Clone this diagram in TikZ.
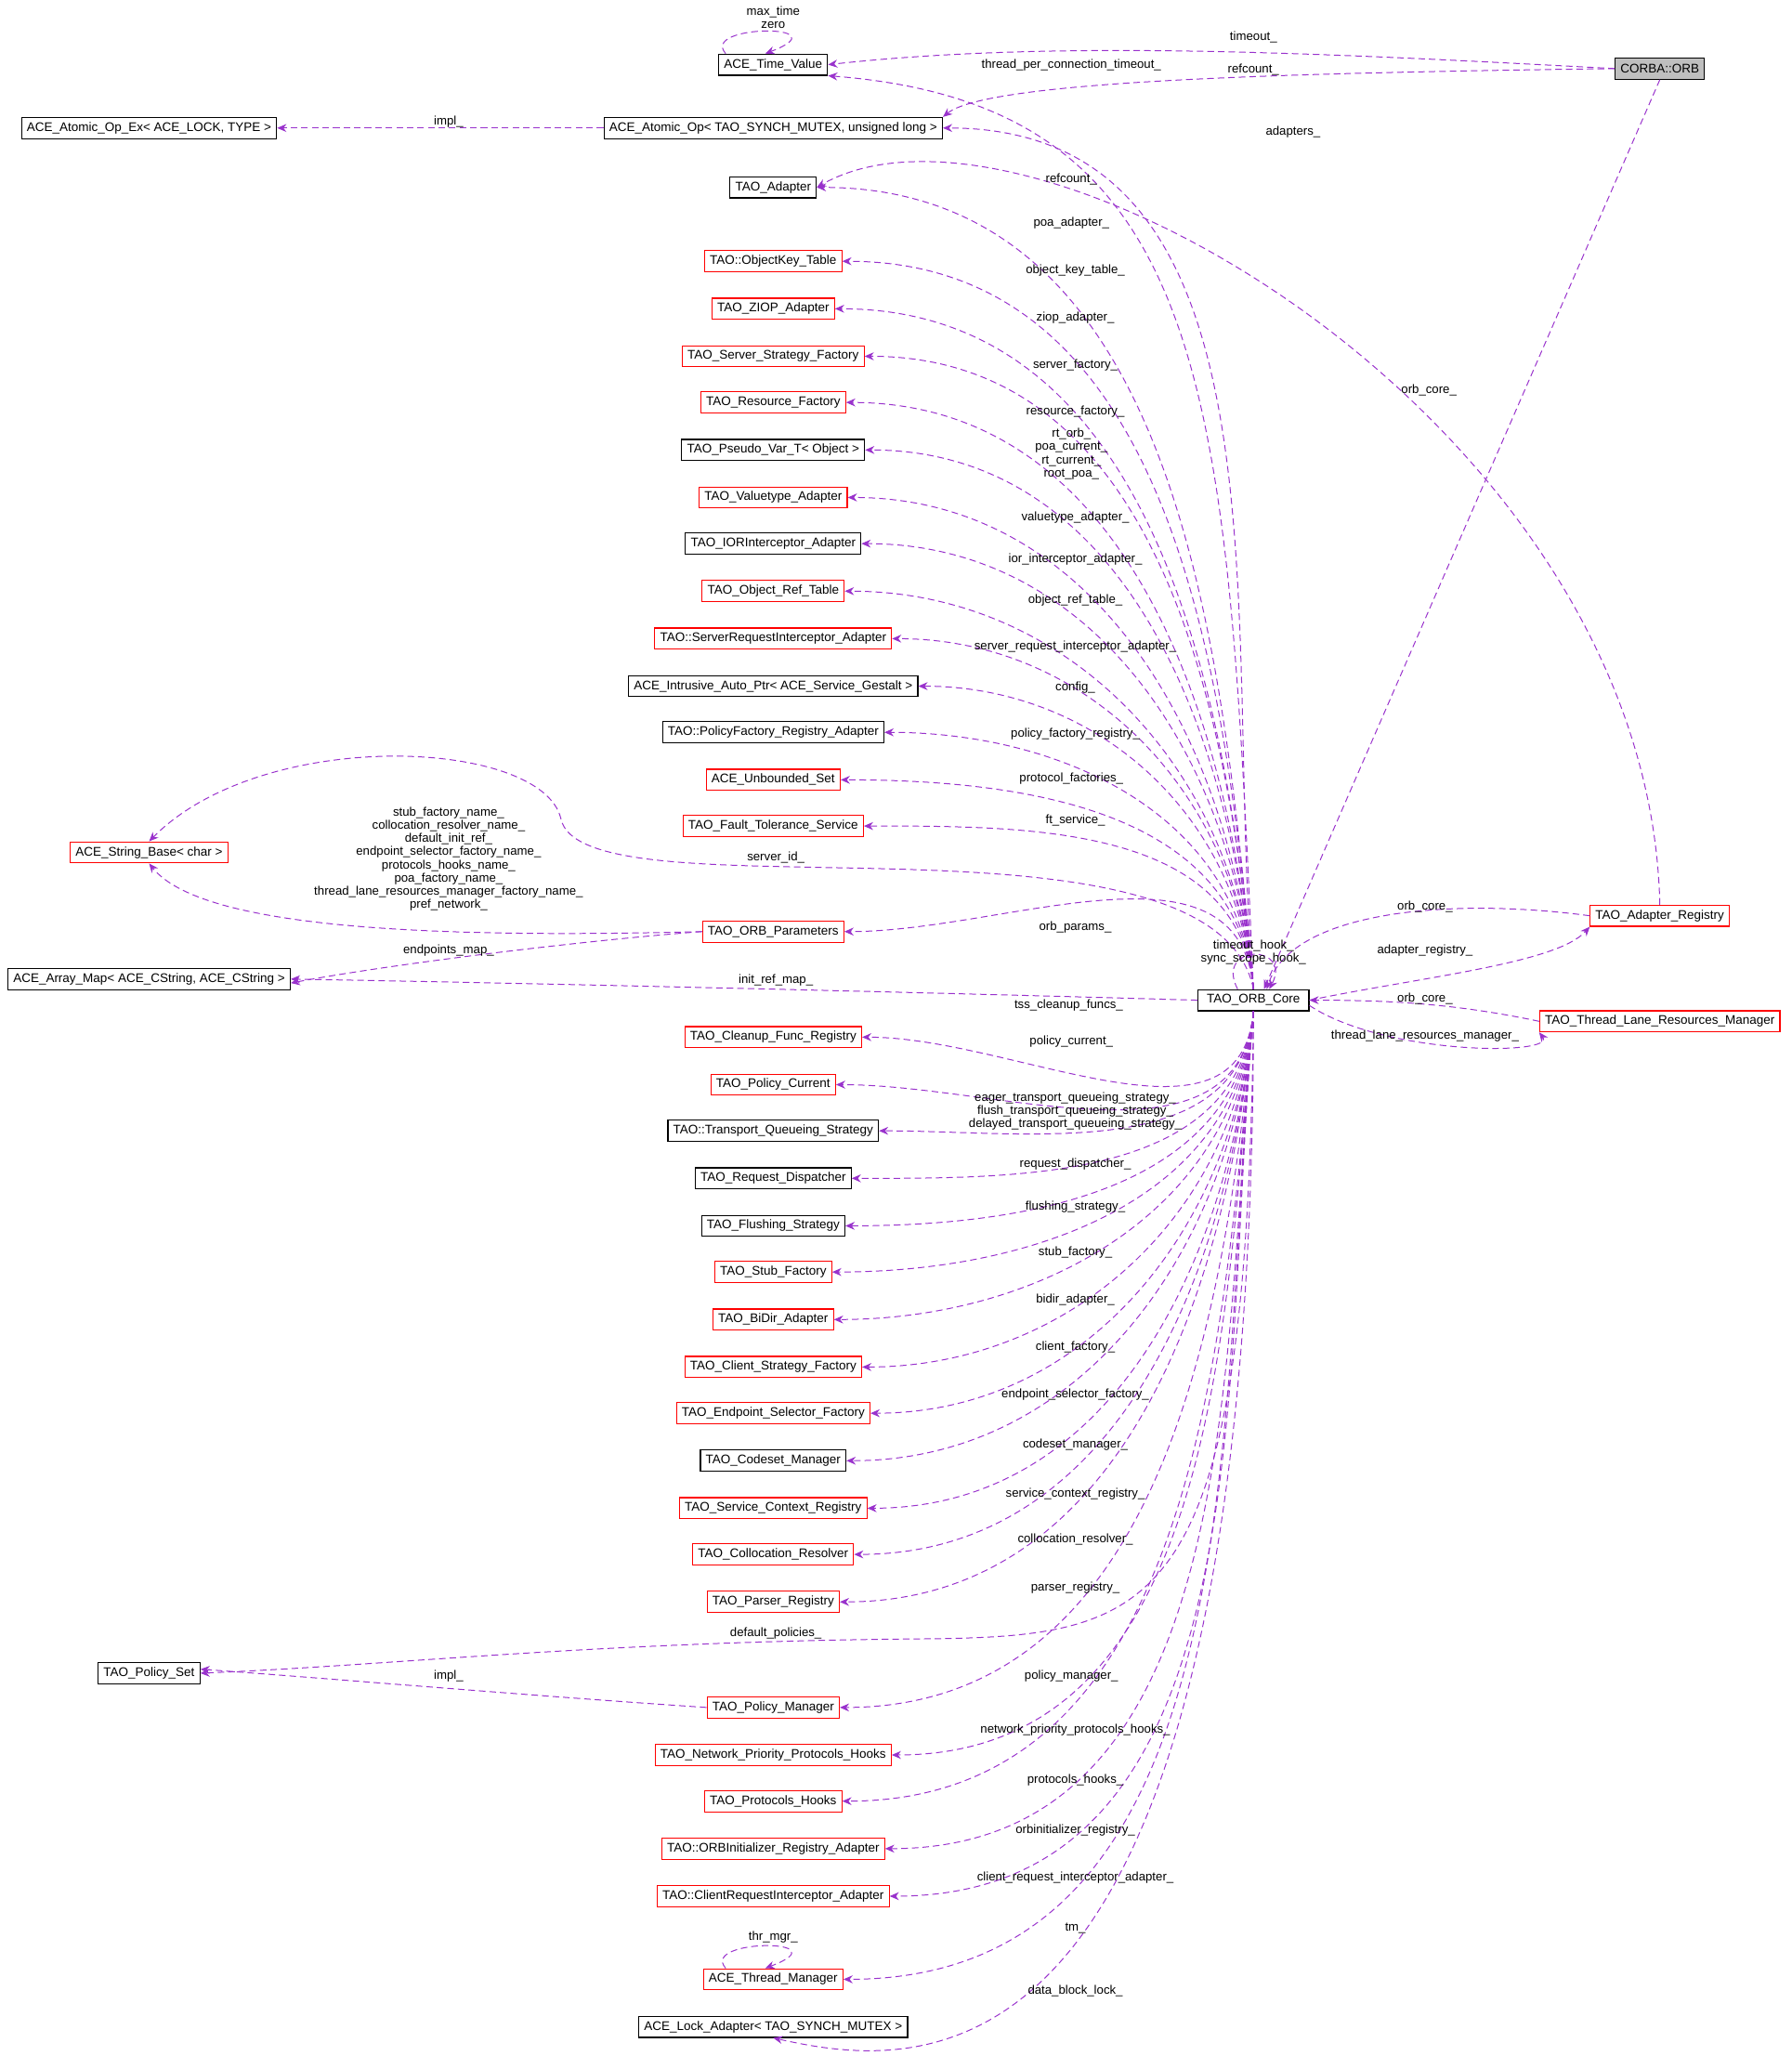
\documentclass[tikz,border=0pt]{standalone}
\usepackage{fontspec}
\setmainfont{Liberation Sans}
\usetikzlibrary{arrows.meta}
\begin{document}
\begin{tikzpicture}[x=1pt,y=-1pt,
 cls/.style={draw=black,fill=white,font=\fontsize{9.5}{11}\selectfont,inner xsep=4pt,inner ysep=0pt,minimum height=16pt,line width=0.8pt},
 rcls/.style={cls,draw=red},
 dep/.style={draw={rgb,255:red,153;green,50;blue,204},dashed,dash pattern=on 5pt off 3pt,line width=0.7pt,-{Stealth[length=7pt,width=6pt]}},
 lab/.style={font=\fontsize{9.3}{10}\selectfont,align=center,inner sep=0pt}]
\useasboundingbox (0,0) rectangle (1358,1568);
% nodes
\node[cls,fill={rgb,255:red,191;green,191;blue,191}] (orb) at (1258,52) {CORBA::ORB};
\node[cls] (tv) at (586,49) {ACE\_Time\_Value};
\node[cls] (aop) at (586,97) {ACE\_Atomic\_Op< TAO\_SYNCH\_MUTEX, unsigned long >};
\node[cls] (aopex) at (113,97) {ACE\_Atomic\_Op\_Ex< ACE\_LOCK, TYPE >};
\node[cls] (ad) at (586,142) {TAO\_Adapter};
\node[rcls] (okt) at (586,198) {TAO::ObjectKey\_Table};
\node[rcls] (ziop) at (586,234) {TAO\_ZIOP\_Adapter};
\node[rcls] (ssf) at (586,270) {TAO\_Server\_Strategy\_Factory};
\node[rcls] (rf) at (586,305) {TAO\_Resource\_Factory};
\node[cls] (pv) at (586,341) {TAO\_Pseudo\_Var\_T< Object >};
\node[rcls] (vt) at (586,377) {TAO\_Valuetype\_Adapter};
\node[cls] (ior) at (586,412) {TAO\_IORInterceptor\_Adapter};
\node[rcls] (ort) at (586,448) {TAO\_Object\_Ref\_Table};
\node[rcls] (sri) at (586,484) {TAO::ServerRequestInterceptor\_Adapter};
\node[cls] (iap) at (586,520) {ACE\_Intrusive\_Auto\_Ptr< ACE\_Service\_Gestalt >};
\node[cls] (pfr) at (586,555) {TAO::PolicyFactory\_Registry\_Adapter};
\node[rcls] (us) at (586,591) {ACE\_Unbounded\_Set};
\node[rcls] (ft) at (586,626) {TAO\_Fault\_Tolerance\_Service};
\node[rcls] (sb) at (113,646) {ACE\_String\_Base< char >};
\node[rcls] (op) at (586,706) {TAO\_ORB\_Parameters};
\node[cls] (am) at (113,742) {ACE\_Array\_Map< ACE\_CString, ACE\_CString >};
\node[cls,minimum width=84pt] (core) at (950,758) {TAO\_ORB\_Core};
\node[rcls] (ar) at (1258,694) {TAO\_Adapter\_Registry};
\node[rcls] (tl) at (1258,774) {TAO\_Thread\_Lane\_Resources\_Manager};
\node[rcls] (cf) at (586,786) {TAO\_Cleanup\_Func\_Registry};
\node[rcls] (pc) at (586,822) {TAO\_Policy\_Current};
\node[cls] (tq) at (586,857) {TAO::Transport\_Queueing\_Strategy};
\node[cls] (rd) at (586,893) {TAO\_Request\_Dispatcher};
\node[cls] (fs) at (586,929) {TAO\_Flushing\_Strategy};
\node[rcls] (sf) at (586,964) {TAO\_Stub\_Factory};
\node[rcls] (bd) at (586,1000) {TAO\_BiDir\_Adapter};
\node[rcls] (csf) at (586,1036) {TAO\_Client\_Strategy\_Factory};
\node[rcls] (esf) at (586,1071) {TAO\_Endpoint\_Selector\_Factory};
\node[cls] (cm) at (586,1107) {TAO\_Codeset\_Manager};
\node[rcls] (scr) at (586,1143) {TAO\_Service\_Context\_Registry};
\node[rcls] (cr) at (586,1178) {TAO\_Collocation\_Resolver};
\node[rcls] (pr) at (586,1214) {TAO\_Parser\_Registry};
\node[cls] (ps) at (113,1268) {TAO\_Policy\_Set};
\node[rcls] (pm) at (586,1294) {TAO\_Policy\_Manager};
\node[rcls] (np) at (586,1330) {TAO\_Network\_Priority\_Protocols\_Hooks};
\node[rcls] (ph) at (586,1365) {TAO\_Protocols\_Hooks};
\node[rcls] (oi) at (586,1401) {TAO::ORBInitializer\_Registry\_Adapter};
\node[rcls] (cri) at (586,1437) {TAO::ClientRequestInterceptor\_Adapter};
\node[rcls] (tm) at (586,1500) {ACE\_Thread\_Manager};
\node[cls] (la) at (586,1536) {ACE\_Lock\_Adapter< TAO\_SYNCH\_MUTEX >};
\coordinate (dp) at (700,1242);
% top edges from core
\foreach \t in {aop,ad,okt,ziop,ssf,rf,pv,vt,ior,ort,sri,iap,pfr,us,ft,op}
  \draw[dep] (core.north) to[out=95,in=0] (\t.east);
\draw[dep] (core.north) .. controls (930,300) and (920,80) .. (tv.south east);
\foreach \t in {cf,pc,tq,rd,fs,sf,bd,csf,esf,cm,scr,cr,pr,pm,np,ph,oi,cri,tm}
  \draw[dep] (core.south) to[out=265,in=0] (\t.east);
\draw[dep] (core.south) .. controls (950,1600) and (700,1570) .. (la.south);
\draw[dep] (core.south) .. controls (945,1225) and (880,1240) .. (dp) .. controls (450,1244) and (300,1262) .. (ps.east);
\draw[dep] (core.west) .. controls (700,752) and (400,745) .. (am.east);
\draw[dep] (op.west) .. controls (450,712) and (300,730) .. ([yshift=-3pt]am.east);
\draw[dep] (op.west) .. controls (300,712) and (150,700) .. (sb.south);
\draw[dep] (pm.west) .. controls (400,1285) and (250,1272) .. ([yshift=3pt]ps.east);
\draw[dep] (aop.west) -- (aopex.east);
\draw[dep] (core.north) .. controls (920,600) and (440,700) .. (425,620) .. controls (410,560) and (200,550) .. (sb.north);
\draw[dep] (orb.west) .. controls (1000,40) and (800,30) .. (tv.east);
\draw[dep] (orb.west) .. controls (1000,55) and (750,60) .. (aop.north east);
\draw[dep] (orb.south) -- ([xshift=8pt]core.north);
\draw[dep] (ar.north) .. controls (1250,320) and (780,50) .. (ad.east);
\draw[dep] (ar.west) .. controls (1100,680) and (980,690) .. ([xshift=10pt]core.north);
\draw[dep] (core.east) .. controls (1080,740) and (1180,730) .. (ar.south west);
\draw[dep] (tl.west) .. controls (1100,760) and (1050,758) .. (core.east);
\draw[dep] ([yshift=-4pt]core.east) .. controls (1050,800) and (1180,800) .. (tl.south west);
\draw[dep] ([xshift=-12pt]core.north) .. controls (920,715) and (980,715) .. ([xshift=12pt]core.north);
\draw[dep] ([xshift=-36pt]tv.north) .. controls (530,18) and (640,18) .. ([xshift=-6pt]tv.north);
\draw[dep] ([xshift=-36pt]tm.north) .. controls (530,1469) and (640,1469) .. ([xshift=-6pt]tm.north);
% labels
\node[lab] (l1) at (586,13) {max\_time\\zero};
\node[lab] (l2) at (950,28) {timeout\_};
\node[lab] (l3) at (950,53) {refcount\_};
\node[lab] (l4) at (812,49) {thread\_per\_connection\_timeout\_};
\node[lab] (l5) at (980,100) {adapters\_};
\node[lab] (l6) at (340,92) {impl\_};
\node[lab] (l7) at (1083,296) {orb\_core\_};
\node[lab] at (812,136) {refcount\_};
\node[lab] at (812,169) {poa\_adapter\_};
\node[lab] at (815,205) {object\_key\_table\_};
\node[lab] at (815,241) {ziop\_adapter\_};
\node[lab] at (815,277) {server\_factory\_};
\node[lab] at (815,312) {resource\_factory\_};
\node[lab] at (812,344) {rt\_orb\_\\poa\_current\_\\rt\_current\_\\root\_poa\_};
\node[lab] at (815,392) {valuetype\_adapter\_};
\node[lab] at (815,424) {ior\_interceptor\_adapter\_};
\node[lab] at (815,455) {object\_ref\_table\_};
\node[lab] at (815,490) {server\_request\_interceptor\_adapter\_};
\node[lab] at (815,521) {config\_};
\node[lab] at (815,556) {policy\_factory\_registry\_};
\node[lab] at (812,590) {protocol\_factories\_};
\node[lab] at (815,622) {ft\_service\_};
\node[lab] at (588,650) {server\_id\_};
\node[lab] at (340,651) {stub\_factory\_name\_\\collocation\_resolver\_name\_\\default\_init\_ref\_\\endpoint\_selector\_factory\_name\_\\protocols\_hooks\_name\_\\poa\_factory\_name\_\\thread\_lane\_resources\_manager\_factory\_name\_\\pref\_network\_};
\node[lab] at (340,720) {endpoints\_map\_};
\node[lab] at (815,703) {orb\_params\_};
\node[lab] at (950,722) {timeout\_hook\_\\sync\_scope\_hook\_};
\node[lab] at (588,743) {init\_ref\_map\_};
\node[lab] at (1080,687) {orb\_core\_};
\node[lab] at (1080,720) {adapter\_registry\_};
\node[lab] at (1080,757) {orb\_core\_};
\node[lab] at (1080,785) {thread\_lane\_resources\_manager\_};
\node[lab] at (810,762) {tss\_cleanup\_funcs\_};
\node[lab] at (812,789) {policy\_current\_};
\node[lab] at (815,842) {eager\_transport\_queueing\_strategy\_\\flush\_transport\_queueing\_strategy\_\\delayed\_transport\_queueing\_strategy\_};
\node[lab] at (815,882) {request\_dispatcher\_};
\node[lab] at (815,915) {flushing\_strategy\_};
\node[lab] at (815,949) {stub\_factory\_};
\node[lab] at (815,985) {bidir\_adapter\_};
\node[lab] at (815,1021) {client\_factory\_};
\node[lab] at (815,1057) {endpoint\_selector\_factory\_};
\node[lab] at (815,1095) {codeset\_manager\_};
\node[lab] at (815,1132) {service\_context\_registry\_};
\node[lab] at (815,1167) {collocation\_resolver\_};
\node[lab] at (815,1203) {parser\_registry\_};
\node[lab] at (588,1238) {default\_policies\_};
\node[lab] at (340,1270) {impl\_};
\node[lab] at (812,1270) {policy\_manager\_};
\node[lab] at (815,1311) {network\_priority\_protocols\_hooks\_};
\node[lab] at (815,1349) {protocols\_hooks\_};
\node[lab] at (815,1387) {orbinitializer\_registry\_};
\node[lab] at (815,1423) {client\_request\_interceptor\_adapter\_};
\node[lab] at (815,1461) {tm\_};
\node[lab] at (815,1509) {data\_block\_lock\_};
\node[lab] at (586,1468) {thr\_mgr\_};
\end{tikzpicture}
\end{document}
